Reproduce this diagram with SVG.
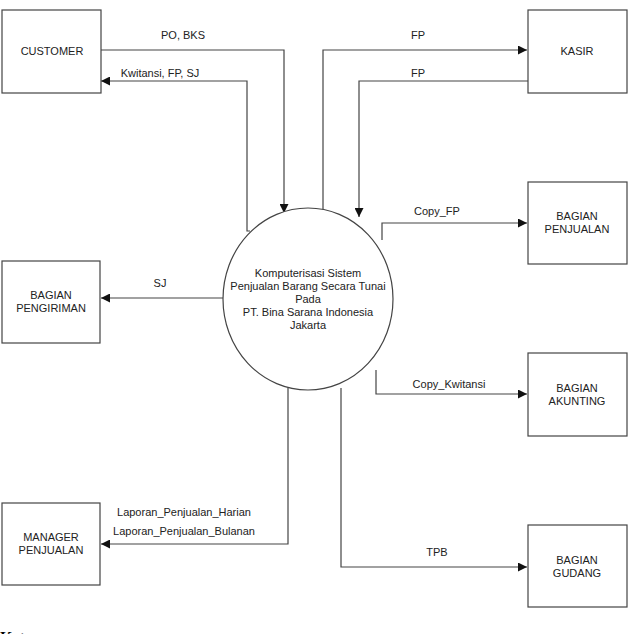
<svg xmlns="http://www.w3.org/2000/svg" width="635" height="634" viewBox="0 0 635 634">
<defs>
<style>
.box{fill:#fff;stroke:#444;stroke-width:1.2}
.t{font-family:"Liberation Sans",Arial,sans-serif;font-size:11px;fill:#222;text-anchor:middle}
.c{fill:none;stroke:#444;stroke-width:1.2}
</style>
<marker id="ah" viewBox="0 0 10 10" refX="10" refY="5" markerWidth="9" markerHeight="9" markerUnits="userSpaceOnUse" orient="auto">
<path d="M0,0 L10,5 L0,10 z" fill="#111"/>
</marker>
</defs>
<rect width="635" height="634" fill="#fff"/>
<g id="connectors">
<polyline class="c" points="101,50 284,50 284,213" marker-end="url(#ah)"/>
<polyline class="c" points="250,231 247,231 247,81 101,81" marker-end="url(#ah)"/>
<polyline class="c" points="323,210 323,50 527,50" marker-end="url(#ah)"/>
<polyline class="c" points="528,81 359,81 359,217" marker-end="url(#ah)"/>
<polyline class="c" points="382,240 382,223 527,223" marker-end="url(#ah)"/>
<polyline class="c" points="376,370 376,394 527,394" marker-end="url(#ah)"/>
<polyline class="c" points="223,298 101,298" marker-end="url(#ah)"/>
<polyline class="c" points="288,388 288,544 101,544" marker-end="url(#ah)"/>
<polyline class="c" points="341,388 341,567 527,567" marker-end="url(#ah)"/>
<text class="t" x="183" y="39">PO, BKS</text>
<text class="t" x="160" y="77">Kwitansi, FP, SJ</text>
<text class="t" x="418" y="39">FP</text>
<text class="t" x="418" y="77">FP</text>
<text class="t" x="437" y="215">Copy_FP</text>
<text class="t" x="449" y="388">Copy_Kwitansi</text>
<text class="t" x="160" y="287">SJ</text>
<text class="t" x="184" y="516">Laporan_Penjualan_Harian</text>
<text class="t" x="184" y="535">Laporan_Penjualan_Bulanan</text>
<text class="t" x="437" y="556">TPB</text>
</g>
<g id="process">
<ellipse class="box" cx="308" cy="299" rx="85" ry="91"/>
<text class="t" x="308" y="277">Komputerisasi Sistem</text>
<text class="t" x="308" y="290">Penjualan Barang Secara Tunai</text>
<text class="t" x="308" y="303">Pada</text>
<text class="t" x="308" y="316">PT. Bina Sarana Indonesia</text>
<text class="t" x="308" y="329">Jakarta</text>
</g>
<g id="customer"><rect class="box" x="2" y="10" width="99" height="83"/><text class="t" x="52" y="55">CUSTOMER</text></g>
<g id="kasir"><rect class="box" x="528" y="10" width="99" height="83"/><text class="t" x="577" y="55">KASIR</text></g>
<g id="bagian-penjualan"><rect class="box" x="528" y="182" width="99" height="82"/><text class="t" x="577" y="220">BAGIAN</text><text class="t" x="577" y="233">PENJUALAN</text></g>
<g id="bagian-pengiriman"><rect class="box" x="2" y="261" width="98" height="82"/><text class="t" x="51" y="299">BAGIAN</text><text class="t" x="51" y="312">PENGIRIMAN</text></g>
<g id="bagian-akunting"><rect class="box" x="528" y="353" width="99" height="83"/><text class="t" x="577" y="392">BAGIAN</text><text class="t" x="577" y="405">AKUNTING</text></g>
<g id="manager-penjualan"><rect class="box" x="2" y="503" width="98" height="82"/><text class="t" x="51" y="541">MANAGER</text><text class="t" x="51" y="554">PENJUALAN</text></g>
<g id="bagian-gudang"><rect class="box" x="528" y="525" width="99" height="82"/><text class="t" x="577" y="564">BAGIAN</text><text class="t" x="577" y="577">GUDANG</text></g>
<text x="0" y="643" font-family="'Liberation Serif',serif" font-weight="bold" font-size="16" fill="#000">Keterangan :</text>
</svg>
